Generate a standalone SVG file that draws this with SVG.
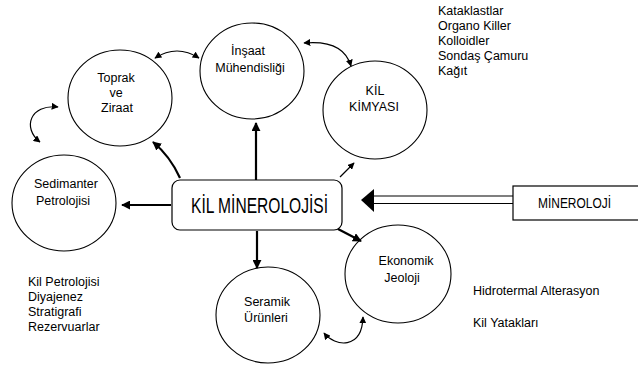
<svg xmlns="http://www.w3.org/2000/svg" width="638" height="365" viewBox="0 0 638 365">
<style>
.node ellipse{fill:#fff;stroke:#000;stroke-width:1.1}
text{font-family:"Liberation Sans",Arial,sans-serif;font-size:12.5px;fill:#000}
.c{text-anchor:middle}
.conn path,.conn line{fill:none;stroke:#000}
.conn polygon{fill:#000;stroke:none}
.thick{stroke-width:2.2}
.thin{stroke-width:1.2}
</style>
<defs>
<marker id="ah" viewBox="0 0 10 10" refX="9" refY="5" markerWidth="9" markerHeight="9" markerUnits="userSpaceOnUse" orient="auto-start-reverse"><path d="M0,0 L10,5 L0,10 z" fill="#000"/></marker>
<marker id="ahs" viewBox="0 0 10 10" refX="9" refY="5" markerWidth="7" markerHeight="7" markerUnits="userSpaceOnUse" orient="auto-start-reverse"><path d="M0,0 L10,5 L0,10 z" fill="#000"/></marker>
</defs>
<rect width="638" height="365" fill="#fff"/>

<g id="toprak" class="node"><ellipse cx="120" cy="98" rx="52" ry="48"/><text class="c" x="116" y="82">Toprak</text><text class="c" x="116" y="97">ve</text><text class="c" x="117" y="112">Ziraat</text></g>
<g id="insaat" class="node"><ellipse cx="252" cy="71" rx="52" ry="48"/><text class="c" x="248" y="55">İnşaat</text><text class="c" x="250" y="72">Mühendisliği</text></g>
<g id="kimya" class="node"><ellipse cx="375" cy="110" rx="52" ry="49"/><text class="c" x="375" y="95">KİL</text><text class="c" x="374" y="111">KİMYASI</text></g>
<g id="sediman" class="node"><ellipse cx="64" cy="203" rx="52" ry="48"/><text class="c" x="66" y="188">Sedimanter</text><text class="c" x="63" y="205">Petrolojisi</text></g>
<g id="seramik" class="node"><ellipse cx="268" cy="315" rx="52" ry="48"/><text class="c" x="267" y="306">Seramik</text><text class="c" x="266" y="322">Ürünleri</text></g>
<g id="ekonomik" class="node"><ellipse cx="398" cy="274" rx="53" ry="49"/><text class="c" x="406" y="265">Ekonomik</text><text class="c" x="402" y="282">Jeoloji</text></g>

<g id="kilmineroloji"><rect x="172" y="180" width="170" height="50" rx="8" fill="#fff" stroke="#000" stroke-width="1.2"/><text x="191" y="213" style="font-size:22px" textLength="137" lengthAdjust="spacingAndGlyphs">KİL MİNEROLOJİSİ</text></g>
<g id="mineroloji"><rect x="513" y="186" width="130" height="34" fill="#fff" stroke="#000" stroke-width="1.2"/><text x="538" y="208" style="font-size:14px" textLength="73" lengthAdjust="spacingAndGlyphs">MİNEROLOJİ</text></g>

<g class="conn">
<line class="thick" x1="256" y1="180" x2="256" y2="123" marker-end="url(#ah)"/>
<line class="thick" x1="257" y1="231" x2="257" y2="268" marker-end="url(#ah)"/>
<line class="thick" x1="171" y1="205" x2="122" y2="205" marker-end="url(#ah)"/>
<path class="thick" d="M180,178 Q170,156 153,142" marker-end="url(#ah)"/>
<line class="thin" x1="340" y1="177" x2="354" y2="163" marker-end="url(#ahs)"/>
<line class="thick" x1="338" y1="229" x2="361" y2="241" marker-end="url(#ah)"/>
<path class="thin" d="M155,58 Q177,44 199,58" marker-start="url(#ahs)" marker-end="url(#ahs)"/>
<path class="thin" d="M304,43 C326,41 345,45 351,66" marker-start="url(#ahs)" marker-end="url(#ahs)"/>
<path class="thin" d="M58,107 C30,104 22,128 40,142" marker-start="url(#ahs)" marker-end="url(#ahs)"/>
<path class="thin" d="M324,333 C335,347 362,350 363,317" marker-start="url(#ahs)" marker-end="url(#ahs)"/>
<line class="thin" x1="372" y1="196" x2="513" y2="196"/>
<line class="thin" x1="372" y1="203.5" x2="513" y2="203.5"/>
<polygon points="361,200 374,189 374,212"/>
</g>

<g id="notes">
<text x="438" y="15">Kataklastlar</text>
<text x="438" y="30">Organo Killer</text>
<text x="438" y="45">Kolloidler</text>
<text x="438" y="60">Sondaş Çamuru</text>
<text x="438" y="75">Kağıt</text>
<text x="28" y="286">Kil Petrolojisi</text>
<text x="28" y="301">Diyajenez</text>
<text x="28" y="316">Stratigrafi</text>
<text x="28" y="331">Rezervuarlar</text>
<text x="473" y="295">Hidrotermal Alterasyon</text>
<text x="473" y="327">Kil Yatakları</text>
</g>
</svg>
